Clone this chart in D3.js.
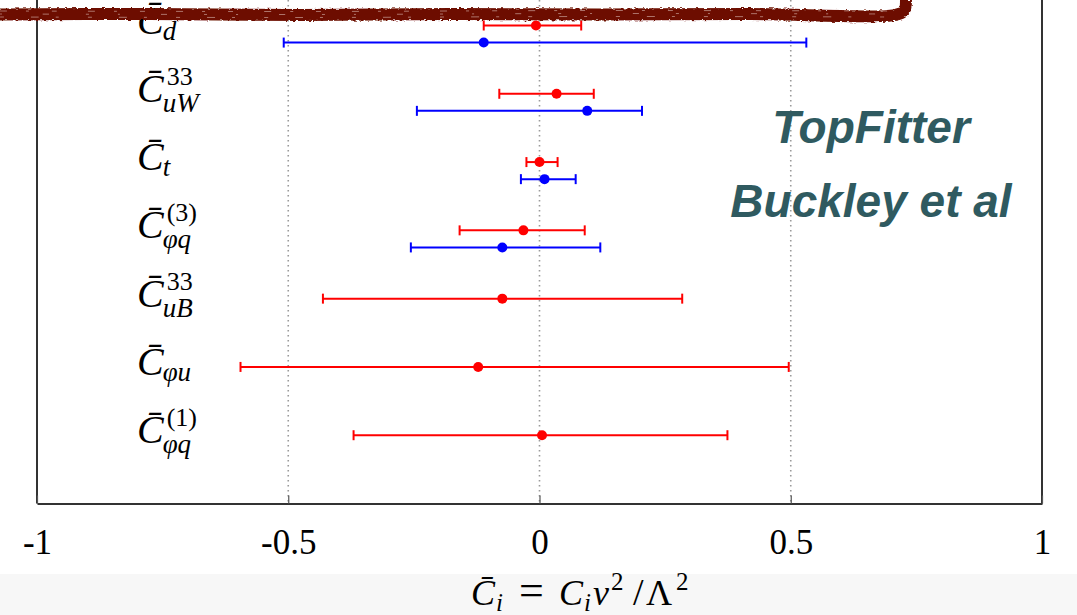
<!DOCTYPE html>
<html><head><meta charset="utf-8">
<script src="https://cdn.jsdelivr.net/npm/d3@7"></script>
<style>html,body{margin:0;padding:0;background:#fff;} svg{display:block}</style>
</head><body>
<svg id="chart" width="1077" height="615"></svg>
<script>
// ---- data ----
const labelSub = ["d", "uW", "t", "φq", "uB", "φu", "φq"];
const labelSup = ["", "33", "", "(3)", "33", "", "(1)"];
const redCentral = [-0.007, 0.034, 0.000, -0.032, -0.074, -0.122, 0.005];
const redLow     = [-0.111, -0.080, -0.026, -0.159, -0.431, -0.595, -0.370];
const redHigh    = [0.083, 0.108, 0.036, 0.090, 0.284, 0.496, 0.374];
const blueCentral = [-0.111, 0.095, 0.010, -0.074, null, null, null];
const blueLow     = [-0.509, -0.244, -0.037, -0.256, null, null, null];
const blueHigh    = [0.531, 0.204, 0.072, 0.121, null, null, null];
const tickValues = [-1, -0.5, 0, 0.5, 1];
const tickLabels = ["-1", "-0.5", "0", "0.5", "1"];
const gridValues = [-0.5, 0, 0.5];
const annotation = ["TopFitter", "Buckley et al"];

// ---- layout ----
const W = 1077, H = 615;
const svg = d3.select("#chart");
const x = d3.scaleLinear().domain([-1, 1]).range([37, 1042]);
const y = d3.scaleLinear().domain([0, 7]).range([25.5, 503.5]);
const blueOffset = 0.25;
const serif = "'Liberation Serif', 'Times New Roman', serif";

// bottom gray band
svg.append("rect").attr("x", 0).attr("y", 574).attr("width", W).attr("height", H - 574).attr("fill", "#f7f7f7");

// dotted gridlines
svg.selectAll("line.grid").data(gridValues).join("line").attr("class", "grid")
  .attr("x1", d => x(d)).attr("x2", d => x(d)).attr("y1", 0).attr("y2", y(7))
  .attr("stroke", "#9a9a9a").attr("stroke-width", 1.6).attr("stroke-dasharray", "1.6,3.4");

// frame sides
[-1, 1].forEach(v => {
  svg.append("line").attr("x1", x(v)).attr("x2", x(v)).attr("y1", 0).attr("y2", y(7))
    .attr("stroke", "#333").attr("stroke-width", 2);
});

// x axis
const axis = d3.axisBottom(x).tickValues(tickValues).tickFormat((d, i) => tickLabels[i])
  .tickSize(-8).tickSizeOuter(0).tickPadding(26);
const gAxis = svg.append("g").attr("transform", `translate(0,${y(7)})`).call(axis);
gAxis.select(".domain").attr("stroke", "#333").attr("stroke-width", 2);
gAxis.selectAll(".tick line").attr("stroke", "#555").attr("stroke-width", 1.2);
gAxis.selectAll(".tick text").attr("font-family", serif).attr("font-size", 35).attr("fill", "#000");

// error bars
function drawSeries(central, low, high, color, offset) {
  const rows = central.map((c, i) => ({i, c, lo: low[i], hi: high[i]})).filter(d => d.c !== null);
  const g = svg.append("g");
  const cap = 5;
  rows.forEach(d => {
    const yy = y(d.i + offset);
    g.append("line").attr("x1", x(d.lo)).attr("x2", x(d.hi)).attr("y1", yy).attr("y2", yy)
      .attr("stroke", color).attr("stroke-width", 2);
    [d.lo, d.hi].forEach(v => g.append("line").attr("x1", x(v)).attr("x2", x(v))
      .attr("y1", yy - cap).attr("y2", yy + cap).attr("stroke", color).attr("stroke-width", 2));
    g.append("circle").attr("cx", x(d.c)).attr("cy", yy).attr("r", 5).attr("fill", color);
  });
}
drawSeries(redCentral, redLow, redHigh, "#ff0000", 0);
drawSeries(blueCentral, blueLow, blueHigh, "#0000ff", blueOffset);

// row labels
labelSub.forEach((sub, i) => {
  const base = y(i) + 8;
  const t = svg.append("text").attr("x", 137).attr("y", base).attr("font-family", serif)
    .attr("font-style", "italic").attr("font-size", 40).text("C\u0304");
  const w = t.node().getComputedTextLength();
  const sup = labelSup[i];
  if (sup) {
    svg.append("text").attr("x", 137 + w + 3).attr("y", base - 17).attr("font-family", serif)
      .attr("font-size", 26).text(sup);
  }
  svg.append("text").attr("x", 137 + w - 1).attr("y", base + (sup ? 10 : 6)).attr("font-family", serif)
    .attr("font-style", "italic").attr("font-size", 27).text(sub);
});

// annotation
annotation.forEach((s, k) => {
  svg.append("text").attr("x", 871).attr("y", 143 + k * 74).attr("text-anchor", "middle")
    .attr("font-family", "'Liberation Sans', Arial, sans-serif").attr("font-weight", "bold")
    .attr("font-style", "italic").attr("font-size", 46).attr("fill", "#2f5a60").text(s);
});

// axis title: C̄_i = C_i v^2 / Λ^2
const titleParts = [
  {t: "C\u0304", x: 471, dy: 0, fs: 36, it: true},
  {t: "i", x: 496, dy: 6, fs: 25, it: true},
  {t: "=", x: 519, dy: 0, fs: 44, it: false},
  {t: "C", x: 559, dy: 0, fs: 36, it: true},
  {t: "i", x: 584, dy: 6, fs: 25, it: true},
  {t: "v", x: 593, dy: 0, fs: 36, it: true},
  {t: "2", x: 611, dy: -15, fs: 25, it: false},
  {t: "/", x: 633, dy: 0, fs: 38, it: false},
  {t: "Λ", x: 646, dy: 0, fs: 36, it: false},
  {t: "2", x: 676, dy: -15, fs: 25, it: false}
];
const tt = svg.append("text").attr("y", 605).attr("font-family", serif).attr("fill", "#000");
titleParts.forEach(p => {
  tt.append("tspan").attr("x", p.x).attr("y", 605 + p.dy).attr("font-size", p.fs)
    .attr("font-style", p.it ? "italic" : "normal").text(p.t);
});

// hand-drawn dark red stroke at top
const defs = svg.append("defs");
const f = defs.append("filter").attr("id", "rough").attr("x", "-5%").attr("y", "-100%").attr("width", "110%").attr("height", "300%");
f.append("feTurbulence").attr("type", "fractalNoise").attr("baseFrequency", "0.25 0.9").attr("numOctaves", 2).attr("seed", 4).attr("result", "n");
f.append("feDisplacementMap").attr("in", "SourceGraphic").attr("in2", "n").attr("scale", 4).attr("xChannelSelector", "R").attr("yChannelSelector", "G");
const strokePts = [[-5, 14.5], [150, 14], [300, 15], [450, 14], [600, 14.5], [750, 14], [895, 15], [904, 11], [906, 0]];
const line = d3.line().curve(d3.curveCatmullRom);
svg.append("path").attr("d", line(strokePts)).attr("fill", "none").attr("stroke", "#6d1000")
  .attr("stroke-width", 12).attr("filter", "url(#rough)");
[[11, "7 19 3 23 5 31"], [17, "4 27 8 17 3 29"], [14, "2 41 6 37 3 29"]].forEach(([yy, da]) => {
  svg.append("path").attr("d", line([[0, yy], [300, yy + 0.5], [600, yy - 0.5], [890, yy]]))
    .attr("fill", "none").attr("stroke", "#d9b8b0").attr("stroke-width", 1).attr("opacity", 0.6)
    .attr("stroke-dasharray", da);
});
</script>
</body></html>
